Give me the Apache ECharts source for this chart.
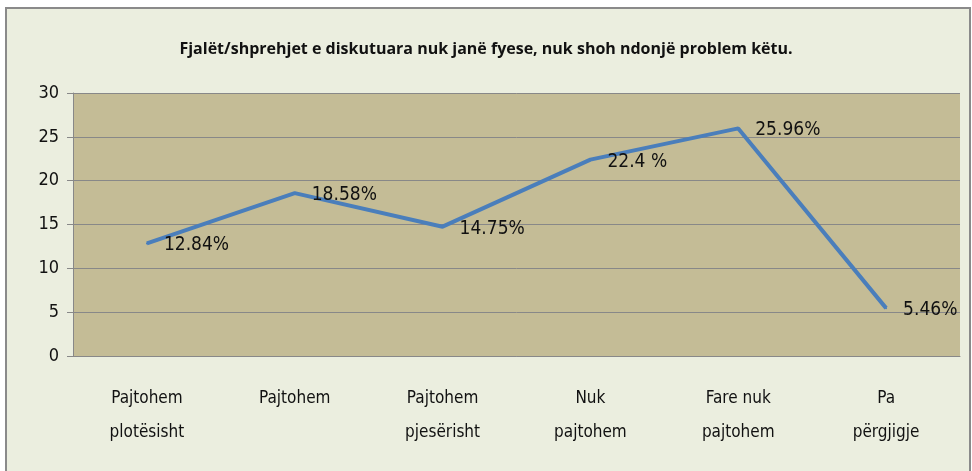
<!DOCTYPE html>
<html>
<head>
<meta charset="utf-8">
<script src="https://cdn.jsdelivr.net/npm/echarts@6/dist/echarts.min.js"></script>
<style>
html,body{margin:0;padding:0;background:#fff;}
#chart{width:972px;height:471px;}
</style>
</head>
<body>
<div id="chart"></div>
<script>
var categories = ['Pajtohem\nplotësisht', 'Pajtohem', 'Pajtohem\npjesërisht', 'Nuk\npajtohem', 'Fare nuk\npajtohem', 'Pa\npërgjigje'];
var values = [12.84, 18.58, 14.75, 22.4, 25.96, 5.46];
var labels = ['12.84%', '18.58%', '14.75%', '22.4 %', '25.96%', '5.46%'];
var titleText = 'Fjalët/shprehjet e diskutuara nuk janë fyese, nuk shoh ndonjë problem këtu.';

var narrow = '"DejaVu Sans Condensed", "Liberation Sans Narrow", sans-serif';
var titleFont = '"Open Sans", sans-serif';

var chart = echarts.init(document.getElementById('chart'));
var option = {
    backgroundColor: '#ffffff',
    animation: false,
    graphic: [{
        type: 'rect',
        z: -10,
        shape: {x: 6, y: 8, width: 964, height: 470},
        style: {fill: '#EBEEDF', stroke: '#8a8a8a', lineWidth: 2}
    }],
    title: {
        text: titleText,
        left: 'center',
        top: 36,
        textStyle: {fontFamily: titleFont, fontSize: 16, fontWeight: 'bold', color: '#111'}
    },
    grid: {
        left: 73,
        right: 12,
        top: 93,
        bottom: 115,
        show: true,
        backgroundColor: '#C4BC96',
        borderWidth: 0
    },
    xAxis: {
        type: 'category',
        data: categories,
        boundaryGap: true,
        axisLine: {lineStyle: {color: '#888', width: 1}},
        axisTick: {show: false},
        axisLabel: {
            interval: 0,
            margin: 26,
            fontFamily: narrow,
            fontSize: 17,
            lineHeight: 34,
            color: '#111'
        }
    },
    yAxis: {
        type: 'value',
        min: 0,
        max: 30,
        interval: 5,
        axisLine: {show: true, lineStyle: {color: '#888', width: 1}},
        axisTick: {show: true, length: 6, lineStyle: {color: '#888'}},
        splitLine: {lineStyle: {color: '#888', width: 1}},
        axisLabel: {margin: 14, fontFamily: narrow, fontSize: 18, color: '#111'}
    },
    series: [{
        type: 'line',
        data: values,
        symbol: 'circle',
        symbolSize: 2,
        showSymbol: true,
        itemStyle: {color: '#4A7EBB'},
        lineStyle: {color: '#4A7EBB', width: 4},
        label: {
            show: true,
            position: 'right',
            distance: 16,
            offset: [0, 2],
            fontFamily: narrow,
            fontSize: 19,
            color: '#111',
            formatter: function (p) { return labels[p.dataIndex]; }
        }
    }]
};
chart.setOption(option);
window.onresize = chart.resize;
</script>
</body>
</html>
